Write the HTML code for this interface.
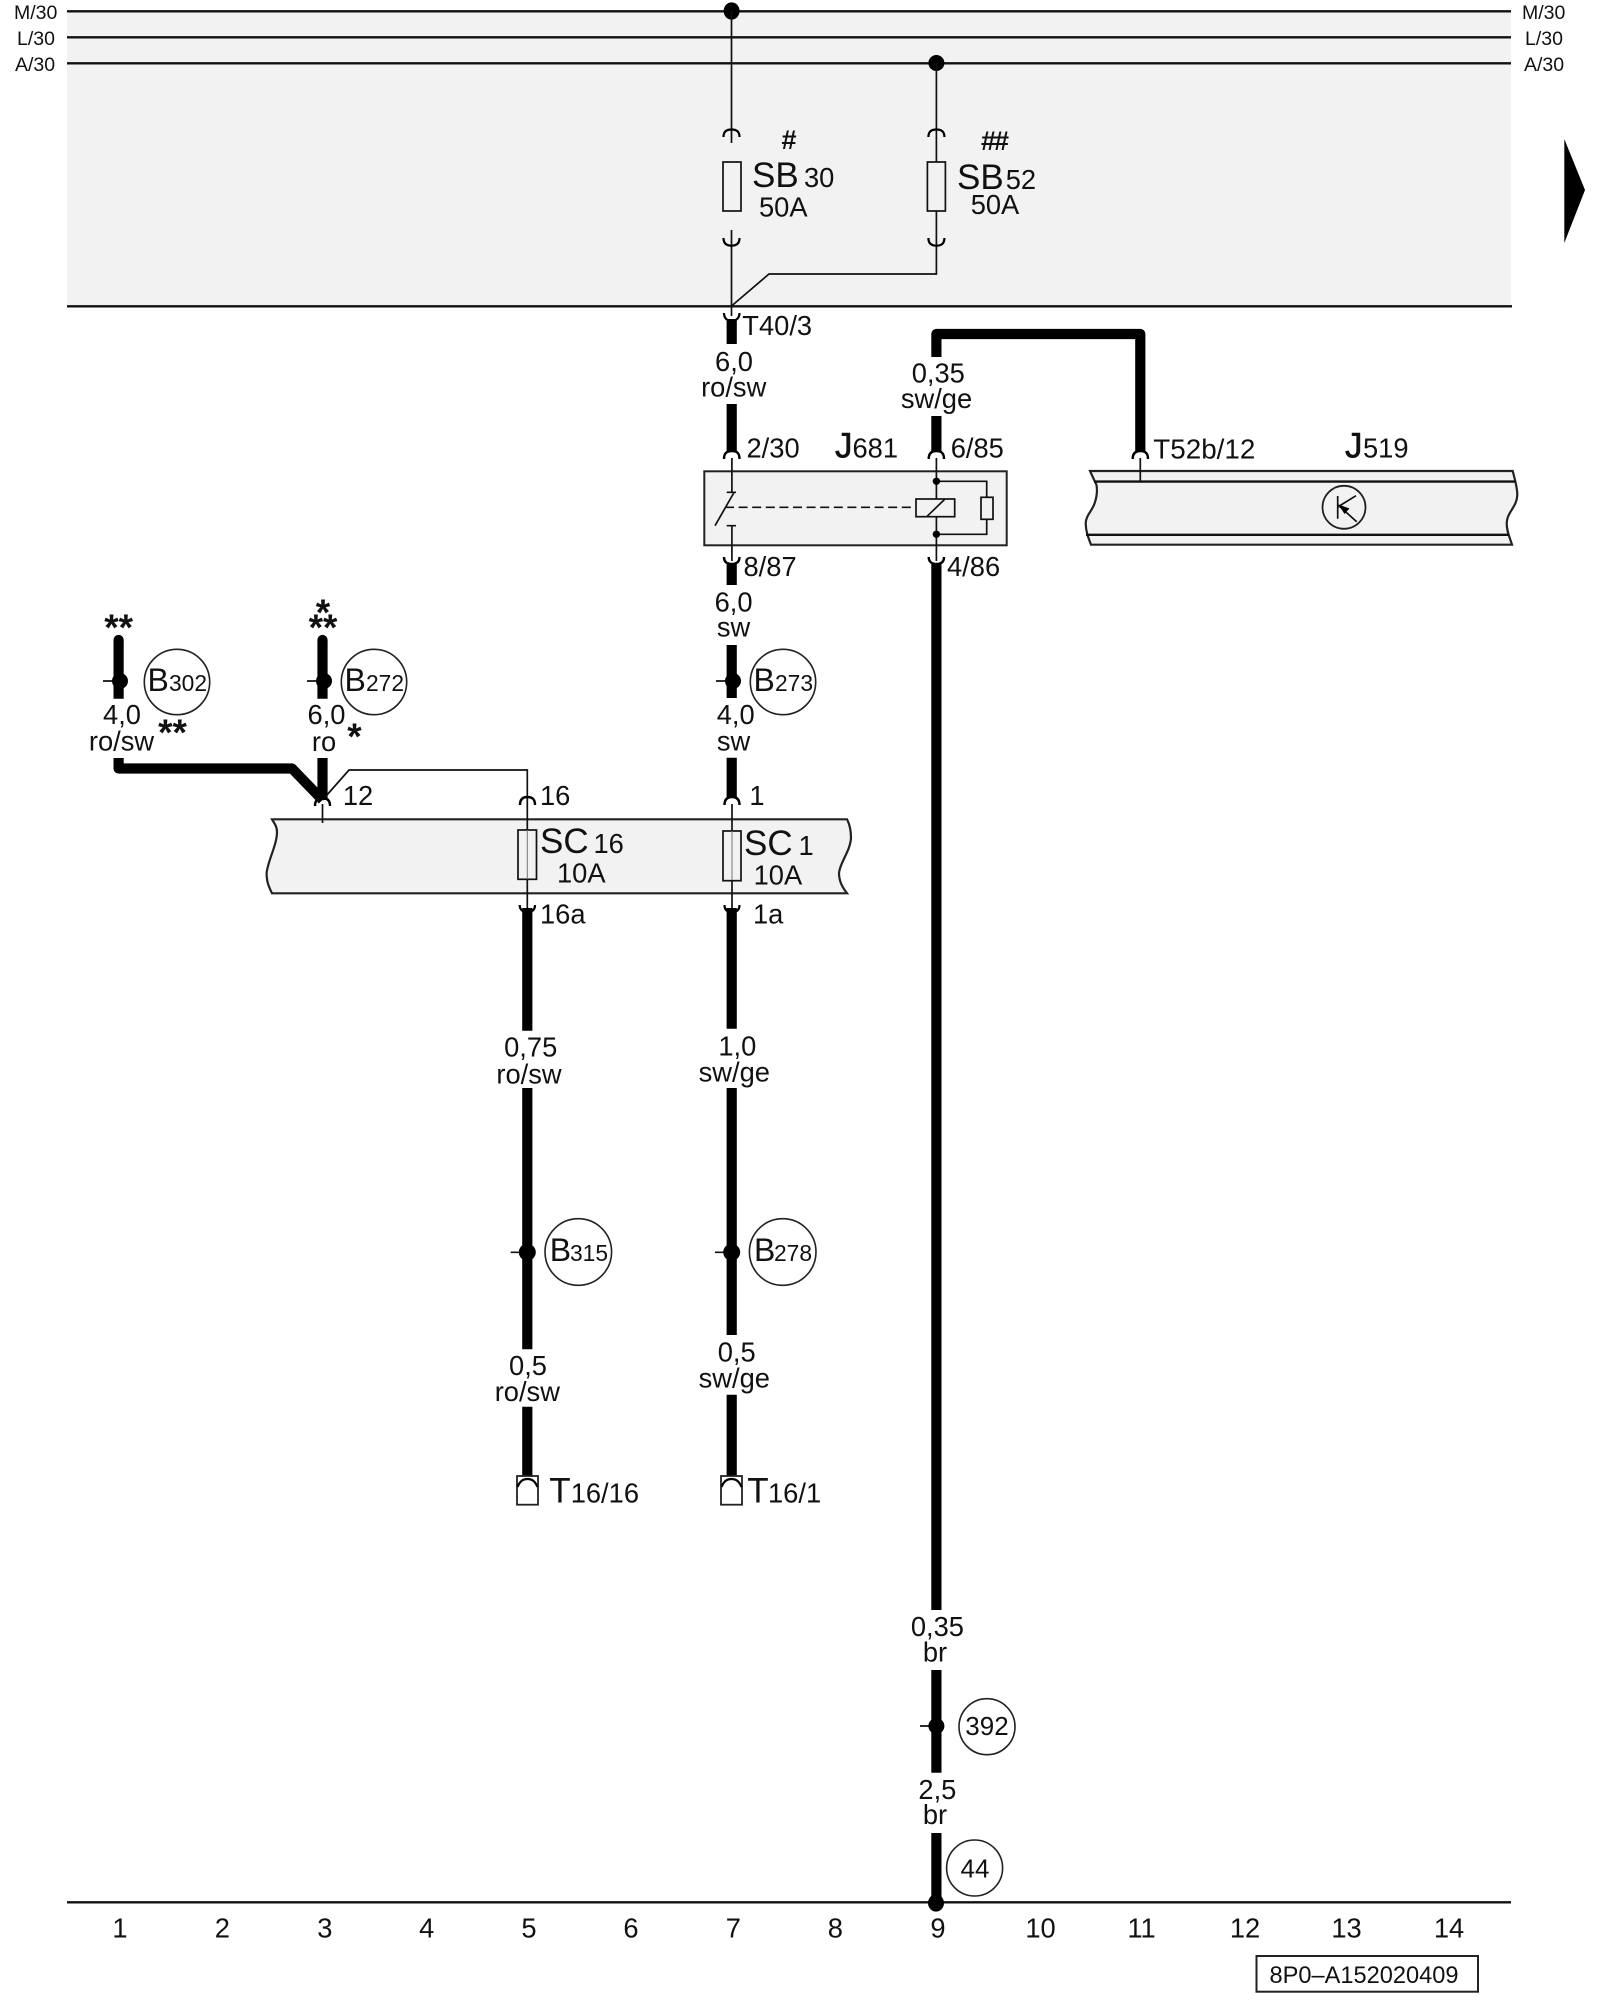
<!DOCTYPE html>
<html lang="de"><head><meta charset="utf-8"><title>8P0-A152020409</title>
<style>
html,body{margin:0;padding:0;background:#fff}
svg{display:block}
text{font-family:"Liberation Sans",sans-serif;fill:#111;font-size:27.3px}
.m{text-anchor:middle}
.s{font-size:19.5px}
.b{font-size:32px}
.d{font-size:22.8px}
.big{font-size:35px}
.j{stroke:#111;stroke-width:.6}
.st{font-size:37px;font-weight:bold;text-anchor:middle}
.h{font-size:27px;font-weight:bold;text-anchor:middle}
.w{fill:none;stroke:#000;stroke-width:10.2;stroke-linejoin:round}
.t{fill:none;stroke:#111;stroke-width:1.7}
.l{fill:none;stroke:#111;stroke-width:2.4}
.a{fill:none;stroke:#000;stroke-width:2.2}
.f{fill:#f2f2f2;stroke:#111;stroke-width:1.7}
.c{fill:#fff;stroke:#222;stroke-width:1.6}
</style></head><body>
<svg xmlns="http://www.w3.org/2000/svg" width="1600" height="2000" viewBox="0 0 1600 2000">
<rect width="1600" height="2000" fill="#fff"/>
<rect x="67" y="11" width="1444" height="295" fill="#f2f2f2"/>
<path class="l" d="M67 11.3H1511M67 37.3H1511M67 63.3H1511M67 306.3H1512M67 1902.3H1511"/>

<text class="s" x="14" y="19">M/30</text><text class="s" x="17" y="45">L/30</text><text class="s" x="15" y="71">A/30</text>
<text class="s" x="1522" y="19">M/30</text><text class="s" x="1525" y="45">L/30</text><text class="s" x="1524" y="71">A/30</text>
<polygon points="1564.3,139 1585,190 1564.3,243" fill="#000"/>

<!-- feeds and fuses -->
<ellipse cx="731.6" cy="11" rx="8" ry="8.6" fill="#000"/>
<circle cx="936.4" cy="63" r="8" fill="#000"/>
<path class="t" d="M731.5 11V143M731.5 230V316M936.4 63V274H769L731.5 306"/>
<path class="a" d="M723.5 137C723.5 131 727 129.5 731.5 129.5C736 129.5 739.5 131 739.5 137M928.4 137C928.4 131 932 129.5 936.4 129.5C941 129.5 944.4 131 944.4 137"/>
<path class="a" d="M723.5 238C723.5 244 727 245.7 731.5 245.7C736 245.7 739.5 244 739.5 238M928.4 238C928.4 244 932 245.7 936.4 245.7C941 245.7 944.4 244 944.4 238"/>
<rect class="f" x="723" y="162" width="18" height="49"/>
<rect class="f" x="927.4" y="162" width="18" height="49"/>
<text class="h" x="789" y="149">#</text><text class="h" x="994" y="150" letter-spacing="-2">##</text>
<text class="big" x="752" y="187">SB</text><text x="804" y="187">30</text><text x="759" y="216.7">50A</text>
<text class="big" x="957" y="189">SB</text><text x="1005.7" y="189">52</text><text x="970.7" y="214">50A</text>

<!-- wire col 7 upper -->
<path class="w" d="M731.7 319V344M731.7 404V453"/>
<path class="a" d="M724 313C724 318 727 321 731.7 321C736 321 739.5 318 739.5 313"/>
<text x="742.3" y="335">T40/3</text>
<text class="m" x="734" y="371">6,0</text><text class="m" x="733.7" y="396.7">ro/sw</text>
<text x="746.5" y="457.7">2/30</text>
<text class="big j" x="835" y="457.7">J</text><text x="852.5" y="457.7">681</text>

<!-- wire col 9 upper -->
<path class="w" d="M936.4 357V334H1140.3V453M936.4 416V453"/>
<text class="m" x="938.3" y="382.7">0,35</text><text class="m" x="936.5" y="408">sw/ge</text>
<text x="950.7" y="457.7">6/85</text>

<!-- relay box -->
<rect x="704.3" y="471.3" width="302.4" height="74" fill="#f2f2f2" stroke="#222" stroke-width="2"/>
<path d="M724 459C724 453 727 451 731.9 451C737 451 739.5 453 739.5 459M928.7 459C928.7 453 932 451 936.4 451C941 451 944 453 944 459M1132.7 459C1132.7 453 1136 451 1140.3 451C1145 451 1148 453 1148 459" fill="#fff" stroke="#000" stroke-width="2.4"/>
<path d="M724 557C724 562 727 564 731.7 564C736.5 564 739.5 562 739.5 557M928.7 557C928.7 562 932 564 936.4 564C941 564 944 562 944 557" fill="none" stroke="#000" stroke-width="2.4"/>
<path class="t" d="M731.9 458V492.3M726.7 492.3H736M715 525.7L734.3 492M726.7 525.7H736M731.9 525.7V561M936.4 458V499M936.4 516.7V561M936.4 481.3H986.7V534.3H936.4"/>
<path class="t" d="M725 507.3H912" stroke-dasharray="9 4.6"/>
<rect class="f" x="916" y="499" width="38.7" height="17.7" stroke-width="2"/>
<path class="t" d="M926.7 516.7L945 499"/>
<rect class="f" x="981" y="497.3" width="12" height="22"/>
<circle cx="936.4" cy="481.3" r="3.7" fill="#000"/><circle cx="936.4" cy="534.3" r="3.7" fill="#000"/>
<text x="743.5" y="576">8/87</text><text x="947" y="576">4/86</text>

<!-- J519 -->
<path d="M1090 471H1512.7C1515 480 1517.3 487 1517.3 495C1517 507 1507 512 1506.7 523C1506.7 532 1510 538 1512 544.7H1091C1088 537 1085.7 531 1085.7 523C1086 515 1093 510 1095 502C1097.3 495 1097.3 490 1096.5 485Z" fill="#f2f2f2" stroke="#222" stroke-width="2.2"/>
<path class="l" d="M1094 481.6H1515M1086 534.8H1509"/>
<path class="t" d="M1140.3 458V481"/>
<circle cx="1344" cy="507.3" r="21.5" fill="none" stroke="#222" stroke-width="1.8"/>
<path class="t" d="M1337.7 496V518.7M1337.7 507L1356 495.7M1338 505L1356.7 521.7"/>
<polygon points="1338.5,504.5 1349.5,508.5 1344.5,514" fill="#000"/>
<text x="1153.3" y="458.3" style="font-size:27.8px">T52b/12</text>
<text class="big j" x="1345" y="457.7">J</text><text x="1363" y="457.7">519</text>

<!-- col 7 middle -->
<path class="w" d="M731.7 563V585M731.7 645V698M731.7 757.7V797"/>
<text class="m" x="733.6" y="611.7">6,0</text><text class="m" x="733.6" y="636.7">sw</text>
<text class="m" x="735.7" y="724">4,0</text><text class="m" x="733.6" y="750.5">sw</text>

<!-- splice col 1 & 3 -->
<path class="w" d="M118.6 640V698.7M322.5 640V698.7" />
<circle cx="118.6" cy="640" r="5.1" fill="#000"/><circle cx="322.5" cy="640" r="5.1" fill="#000"/>
<path class="w" d="M118.6 758V768.5H292L322.5 800M322.5 758V800"/>
<path class="t" d="M103 681H119M307 681H323M716 681H732M510.7 1252.3H528M715 1252.3H732M920 1726H936"/>
<circle cx="120" cy="681" r="8" fill="#000"/><circle cx="324" cy="681" r="8" fill="#000"/><circle cx="733" cy="681" r="8" fill="#000"/>

<circle class="c" cx="177" cy="682" r="32.7"/><circle class="c" cx="374" cy="682" r="32.7"/><circle class="c" cx="783" cy="682" r="32.7"/>
<text class="b" x="147.5" y="691">B</text><text class="d" x="169" y="691">302</text>
<text class="b" x="344.5" y="691">B</text><text class="d" x="366" y="691">272</text>
<text class="b" x="753.5" y="691">B</text><text class="d" x="775" y="691">273</text>

<text class="st" x="118.6" y="640">**</text>
<text class="st" x="323" y="640">**</text><text class="st" x="323" y="625">*</text>
<text class="st" x="172.5" y="745">**</text><text class="st" x="354.5" y="749">*</text>
<text class="m" x="122" y="724">4,0</text><text class="m" x="121.5" y="750.7">ro/sw</text>
<text class="m" x="326.5" y="724">6,0</text><text class="m" x="324" y="751">ro</text>

<!-- SC box -->
<path d="M272 819.3H847C850 825 851 830 851 838C850 852 840 862 839 873C839 882 843 888 847 893.3H272C268 885 266.6 881 266.6 873C268 860 277 845 277 832C277 826 274 823 272 819.3Z" fill="#f2f2f2" stroke="#222" stroke-width="2.2"/>
<path class="t" d="M322.5 800L349 770H527.3V911M322.5 804V823M732 804V908"/>
<path d="M315 806C315 800 318 798 322.5 798C327 798 330 800 330 806M520 805C520 799 523 797 527.3 797C532 797 535 799 535 805M724.5 805C724.5 799 727.5 797 732 797C736.5 797 739.5 799 739.5 805" fill="none" stroke="#000" stroke-width="2.4"/>
<path class="a" d="M519.7 905C519.7 910 523 912 527.3 912C532 912 535 910 535 905M724.5 905C724.5 910 727.5 912 732 912C736.5 912 739.5 910 739.5 905"/>
<rect class="f" x="518" y="830" width="18.5" height="49.3"/>
<rect class="f" x="723" y="831" width="18" height="49.7"/>
<path d="M527.3 830V879M732 831V880" stroke="#777" stroke-width="1"/>
<text x="358" y="805" class="m">12</text><text x="540" y="805">16</text><text x="757" y="805" class="m">1</text>
<text class="big" x="540" y="853">SC</text><text x="593.5" y="853">16</text><text x="557" y="882.7">10A</text>
<text class="big" x="744" y="855">SC</text><text x="798.5" y="855">1</text><text x="753.6" y="884.7">10A</text>
<text x="540" y="923.3">16a</text><text x="753" y="923.3">1a</text>

<!-- lower wires -->
<path class="w" d="M527.3 908V1030.7M527.3 1088V1349.3M527.3 1406.7V1478M731.7 908V1028.7M731.7 1088V1335M731.7 1394.7V1478M936.4 563V1610M936.4 1670V1772.7M936.4 1833V1902"/>
<text class="m" x="530.7" y="1056.7">0,75</text><text class="m" x="529" y="1083.3">ro/sw</text>
<text class="m" x="737.3" y="1055.7">1,0</text><text class="m" x="734.3" y="1081.7">sw/ge</text>

<ellipse cx="527.3" cy="1252.3" rx="8.5" ry="8.5" fill="#000"/><ellipse cx="731.7" cy="1252.3" rx="8.5" ry="8.5" fill="#000"/>
<circle class="c" cx="578.3" cy="1252" r="33.3"/><circle class="c" cx="782.7" cy="1252" r="33.3"/>
<text class="b" x="549.7" y="1261">B</text><text class="d" x="570" y="1261">315</text>
<text class="b" x="754" y="1261">B</text><text class="d" x="774" y="1261">278</text>

<text class="m" x="528" y="1375">0,5</text><text class="m" x="527.3" y="1401">ro/sw</text>
<text class="m" x="736.7" y="1361.7">0,5</text><text class="m" x="734.3" y="1387.7">sw/ge</text>

<rect x="517" y="1476" width="21" height="28.7" fill="#fff" stroke="#222" stroke-width="1.8"/>
<rect x="721" y="1476" width="21" height="28.7" fill="#fff" stroke="#222" stroke-width="1.8"/>
<path class="a" d="M517.5 1487C520 1481 523 1479 527.5 1479C532 1479 535 1481 537.5 1487M721.5 1487C724 1481 727 1479 731.5 1479C736 1479 739 1481 741.5 1487" stroke-width="2"/>
<text class="b" x="549.3" y="1502.7" style="font-size:35px">T</text><text x="570.7" y="1502.7">16/16</text>
<text class="b" x="747.3" y="1502.7" style="font-size:35px">T</text><text x="768" y="1502.7">16/1</text>

<text class="m" x="937.4" y="1636">0,35</text><text class="m" x="935" y="1661.7">br</text>
<text class="m" x="937.4" y="1799">2,5</text><text class="m" x="935" y="1824">br</text>
<circle cx="936.4" cy="1726" r="8" fill="#000"/>
<circle class="c" cx="987" cy="1726.7" r="28"/><text class="m" x="987" y="1735" style="font-size:26px">392</text>
<circle class="c" cx="974.6" cy="1868" r="28"/><text class="m" x="975" y="1877.7" style="font-size:26px">44</text>
<ellipse cx="936" cy="1903" rx="8" ry="8.6" fill="#000"/>

<!-- columns -->
<text class="m" x="120" y="1937.3">1</text><text class="m" x="222.4" y="1937.3">2</text><text class="m" x="324.8" y="1937.3">3</text><text class="m" x="426.7" y="1937.3">4</text><text class="m" x="529" y="1937.3">5</text><text class="m" x="631" y="1937.3">6</text><text class="m" x="733.4" y="1937.3">7</text><text class="m" x="835.3" y="1937.3">8</text><text class="m" x="938" y="1937.3">9</text><text class="m" x="1040.5" y="1937.3">10</text><text class="m" x="1141.5" y="1937.3">11</text><text class="m" x="1245" y="1937.3">12</text><text class="m" x="1346.5" y="1937.3">13</text><text class="m" x="1449" y="1937.3">14</text>

<rect x="1256.5" y="1956" width="221.5" height="35.7" fill="#fff" stroke="#222" stroke-width="2"/>
<text class="m" x="1364" y="1983" style="font-size:23.6px">8P0–A152020409</text>
</svg>
</body></html>
